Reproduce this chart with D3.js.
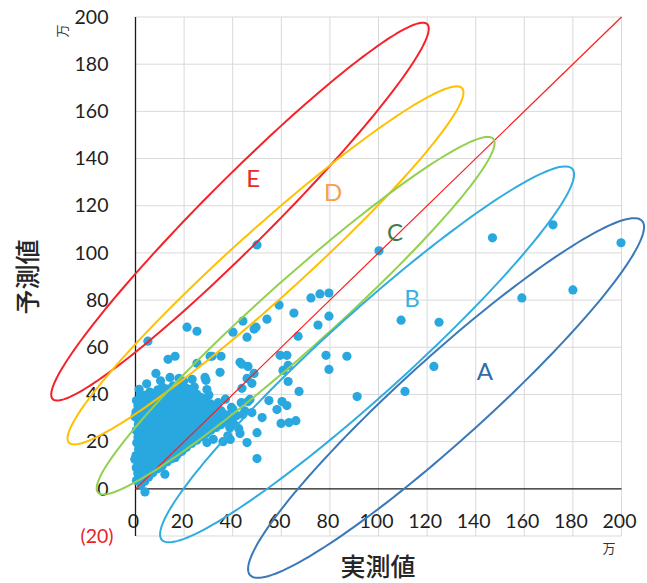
<!DOCTYPE html>
<html><head><meta charset="utf-8">
<script src="https://cdn.jsdelivr.net/npm/d3@7"></script>
<style>body{margin:0;background:#fff}svg{display:block}</style>
</head><body><svg id="c" width="647" height="583"></svg>
<script>
// ---------- data ----------
const xTicks = [0,20,40,60,80,100,120,140,160,180,200];
const yTicks = [-20,0,20,40,60,80,100,120,140,160,180,200];
const yTickLabels = ["(20)","0","20","40","60","80","100","120","140","160","180","200"];
const unitLabel = "万";
const xTitle = "実測値";
const yTitle = "予測値";

// actual (x) and predicted (y) values, in 万
const actual = [
 0.4,1.1,0.3,0.9,0.2,1.3,0.5,1.0,0.3,1.2,0.6,0.2,1.0,0.4,
 2.3,2.0,2.6,2.1,2.4,1.9,2.7,2.2,2.5,1.8,2.6,2.1,2.8,2.3,2.0,
 3.8,3.5,4.1,3.6,4.0,3.4,3.9,3.7,4.2,3.5,4.0,3.6,4.3,3.8,
 5.4,5.8,5.2,5.9,5.5,5.1,5.7,5.3,5.9,5.4,5.8,5.2,5.6,5.9,
 7.1,7.4,6.9,7.3,7.0,7.5,6.8,7.2,7.6,6.9,7.3,7.0,7.4,
 8.8,9.2,8.9,9.4,9.0,8.7,9.3,9.1,8.8,9.4,9.0,8.8,9.2,
 11.0,11.3,10.8,11.2,10.9,11.4,11.1,10.7,11.3,11.0,11.5,10.9,11.2,
 13.1,12.8,13.3,13.0,12.7,13.2,13.4,12.9,13.1,13.5,12.8,13.2,
 15.0,15.3,14.8,15.2,15.4,14.9,15.1,15.5,14.8,15.2,15.0,15.4,
 17.2,16.8,17.1,17.4,16.9,17.3,17.0,17.5,16.8,17.2,17.0,
 19.1,19.4,18.9,19.2,19.5,18.8,19.3,19.0,19.4,18.9,19.2,
 21.0,21.3,20.8,21.2,21.5,20.9,21.1,21.4,20.8,21.2,
 23.1,22.8,23.3,23.0,23.4,22.9,23.2,23.0,23.5,
 25.2,24.9,25.3,25.0,25.4,24.8,25.1,25.3,
 27.0,27.3,26.8,27.2,27.4,26.9,27.1,
 29.1,28.8,29.3,29.0,29.4,28.9,
 31.0,31.3,30.8,31.2,30.9,
 33.2,32.9,33.3,33.0,
 35.1,34.8,35.3,
 37.0,37.4,39.2,38.8,
 39.5,41.5,43.5,40.5,38.0,42.5,45.0,37.0,34.0,40.1,44.2,46.3,
 50.0,100.2,146.9,171.8,199.8,180.0,159.0,109.3,124.9,122.8,110.9,
 72.2,75.9,79.6,59.1,65.2,79.6,75.1,44.2,54.1,49.6,48.8,45.9,66.9,40.1,
 59.5,62.3,78.4,87.0,79.6,60.7,62.8,43.8,48.8,45.9,47.9,62.8,67.3,91.2,
 54.9,60.3,62.3,58.2,47.1,43.8,47.9,52.1,59.9,63.2,66.0,43.0,50.0,45.9,50.0,
 21.2,25.3,5.1,13.4,16.3,25.3,30.7,35.2,34.8,36.0,29.4,27.8,16.3,9.7,3.9,1.0,
 28.6,29.4,8.4,14.2,17.9,23.3,29.0,31.5,43.0,46.3,39.0,
 1.5,4.6,10.3,19.8,24.2,30.2,12.1,32.0,-0.3,-0.2
];
const predicted = [
 3.5,6.2,8.9,11.4,14.1,16.8,19.5,22.0,24.7,27.3,30.1,32.6,35.2,37.4,
 1.8,4.9,7.7,10.6,13.2,15.9,18.6,21.3,24.1,26.7,29.4,32.2,34.9,37.8,40.1,
 3.2,6.4,9.1,12.0,14.8,17.5,20.3,23.0,25.8,28.6,31.3,34.1,36.9,39.6,
 5.0,7.9,10.7,13.4,16.2,19.0,21.8,24.5,27.3,30.0,32.8,35.6,38.4,41.0,
 6.8,9.6,12.5,15.3,18.1,20.8,23.6,26.4,29.1,31.9,34.7,37.5,40.3,
 8.4,11.2,14.0,16.8,19.6,22.4,25.2,28.0,30.8,33.6,36.3,39.1,42.0,
 9.8,12.6,15.4,18.2,21.0,23.8,26.6,29.4,32.2,35.0,37.8,40.5,43.0,
 11.5,14.3,17.1,19.9,22.7,25.5,28.3,31.1,33.9,36.7,39.5,42.3,
 12.8,15.6,18.4,21.2,24.0,26.8,29.6,32.4,35.2,38.0,40.8,43.6,
 14.6,17.4,20.2,23.0,25.8,28.6,31.4,34.2,37.0,39.8,42.8,
 15.9,18.7,21.5,24.3,27.1,29.9,32.7,35.5,38.3,41.1,43.9,
 17.6,20.4,23.2,26.0,28.8,31.6,34.4,37.2,40.0,42.5,
 19.2,22.0,24.8,27.6,30.4,33.2,36.0,38.8,41.3,
 20.6,23.4,26.2,29.0,31.8,34.6,37.4,40.0,
 22.1,24.9,27.7,30.5,33.3,36.1,38.7,
 23.5,26.3,29.1,31.9,34.7,37.5,
 24.8,27.6,30.4,33.2,36.0,
 26.0,28.8,31.6,34.6,
 27.2,30.2,33.0,
 28.3,31.4,29.5,26.0,
 34.5,31.0,36.5,27.5,22.5,25.5,33.0,38.0,36.5,33.6,31.5,37.0,
 103.4,100.9,106.4,111.9,104.3,84.3,80.9,71.5,70.6,51.9,41.3,
 80.9,82.6,83.0,77.9,74.5,73.2,69.4,71.1,71.9,68.5,67.7,64.3,64.7,66.4,
 56.6,56.6,56.6,56.2,50.6,50.2,52.3,52.8,48.9,46.8,44.7,45.5,41.3,39.1,
 37.4,37.0,35.3,33.6,37.9,42.6,32.3,30.2,27.7,28.1,28.9,23.4,23.8,19.6,12.8,
 68.5,66.8,62.6,54.9,56.2,53.2,56.2,56.2,49.4,20.0,19.6,23.0,13.2,8.9,-1.3,6.8,
 47.2,42.1,48.9,47.2,46.8,46.4,46.0,56.2,53.6,51.9,20.9,
 42.2,44.5,45.8,45.6,43.2,39.8,6.2,21.0,12.5,30.5
];

// annotation ellipses (data units): centre, half-length, half-width, angle of long axis
const groupNames = ["E","D","C","B","A"];
const groupCX    = [43.0, 53.5, 65.9, 95.3, 127.8];
const groupCY    = [117.5, 94.7, 73.4, 57.0, 38.5];
const groupHalfL = [110.7, 110.4, 110.6, 115.4, 110.2];
const groupHalfW = [14.0, 14.5, 14.5, 17.0, 17.5];
const groupAngle = [45.9, 42.9, 42.7, 43.0, 43.0];
const groupLabelX = [48.4, 81.3, 106.8, 113.8, 143.8];
const groupLabelY = [131.5, 125.5, 108.9, 80.9, 49.8];

// ---------- styles ----------
const ringColors  = ["#f5222a","#ffc000","#92d050","#30acdf","#3a78b8"];
const labelColors = ["#ea2a2a","#f4a050","#3e7c4c","#37b1e4","#2f6ca8"];
const dotColor = "#29a8e0";

const svg = d3.select("#c");
const x = d3.scaleLinear().domain([0,200]).range([135.5,621.5]);
const y = d3.scaleLinear().domain([-20,200]).range([536,17]);

// grid
const grid = svg.append("g");
grid.selectAll("line.v").data(xTicks.filter(d=>d>0)).join("line")
  .attr("x1",d=>x(d)).attr("x2",d=>x(d)).attr("y1",y(-20)).attr("y2",y(200))
  .attr("stroke","#d9d9d9").attr("stroke-width",1);
grid.selectAll("line.h").data(yTicks.filter(d=>d!==0)).join("line")
  .attr("x1",x(0)).attr("x2",x(200)).attr("y1",d=>y(d)).attr("y2",d=>y(d))
  .attr("stroke","#d9d9d9").attr("stroke-width",1);

// axes
const font = "Lato, 'Open Sans', sans-serif";
const yAxis = svg.append("g").attr("transform",`translate(${x(0)},0)`)
  .call(d3.axisLeft(y).tickValues(yTicks).tickSize(0).tickPadding(27)
        .tickFormat((d,i)=>yTickLabels[i]));
yAxis.select(".domain").remove();
yAxis.selectAll("text").attr("font-family",font).attr("font-size",19.5).attr("fill","#1e1e1e")
  .filter(d=>d<0).attr("fill","#e8232a").attr("dx",5);

const xAxis = svg.append("g").attr("transform",`translate(0,${y(0)})`)
  .call(d3.axisBottom(x).tickValues(xTicks).tickSize(0).tickPadding(25).tickFormat(d3.format("d")));
xAxis.select(".domain").remove();
xAxis.selectAll("text").attr("font-family",font).attr("font-size",19.5).attr("fill","#1e1e1e").attr("dx",-2.5);

svg.append("line").attr("x1",x(0)).attr("x2",x(0)).attr("y1",y(200)).attr("y2",y(-20))
  .attr("stroke","#1a1a1a").attr("stroke-width",1.3);
svg.append("line").attr("x1",x(0)).attr("x2",x(200)).attr("y1",y(0)).attr("y2",y(0))
  .attr("stroke","#1a1a1a").attr("stroke-width",1.3);

// points
svg.append("g").selectAll("circle").data(actual.map((a,i)=>[a,predicted[i]])).join("circle")
  .attr("cx",d=>x(d[0])).attr("cy",d=>y(d[1])).attr("r",4.6).attr("fill",dotColor);

// diagonal y = x
svg.append("line").attr("x1",x(0)).attr("y1",y(0)).attr("x2",x(200)).attr("y2",y(200))
  .attr("stroke","#ff1a1a").attr("stroke-width",1.2);

// ellipses
const line = d3.line().curve(d3.curveLinearClosed);
groupNames.forEach((g,i)=>{
  const th = groupAngle[i]*Math.PI/180, c=Math.cos(th), s=Math.sin(th);
  const pts = d3.range(0,360,2).map(deg=>{
    const t = deg*Math.PI/180;
    const u = groupHalfL[i]*Math.cos(t), v = groupHalfW[i]*Math.sin(t);
    return [x(groupCX[i] + u*c - v*s), y(groupCY[i] + u*s + v*c)];
  });
  svg.append("path").attr("d",line(pts)).attr("fill","none")
    .attr("stroke",ringColors[i]).attr("stroke-width",2);
  svg.append("text").attr("x",x(groupLabelX[i])).attr("y",y(groupLabelY[i]))
    .attr("dy","0.36em").attr("text-anchor","middle").attr("font-family",font)
    .attr("font-size",24).attr("fill",labelColors[i]).text(g);
});

// unit labels
svg.append("text").attr("transform","translate(62,31) rotate(-90)").attr("text-anchor","middle")
  .attr("dy","0.36em").attr("font-family","'Noto Sans CJK JP'").attr("font-size",13).attr("fill","#333").text(unitLabel);
svg.append("text").attr("x",609).attr("y",548).attr("text-anchor","middle").attr("dy","0.36em")
  .attr("font-family","'Noto Sans CJK JP'").attr("font-size",13).attr("fill","#333").text(unitLabel);

// titles
svg.append("text").attr("x",378).attr("y",567).attr("text-anchor","middle").attr("dy","0.36em")
  .attr("font-family","'Noto Sans CJK JP'").attr("font-size",25).attr("font-weight",500).attr("fill","#262626").text(xTitle);
svg.append("text").attr("transform","translate(28,277) rotate(-90)").attr("text-anchor","middle").attr("dy","0.36em")
  .attr("font-family","'Noto Sans CJK JP'").attr("font-size",25).attr("font-weight",500).attr("fill","#262626").text(yTitle);
</script></body></html>
